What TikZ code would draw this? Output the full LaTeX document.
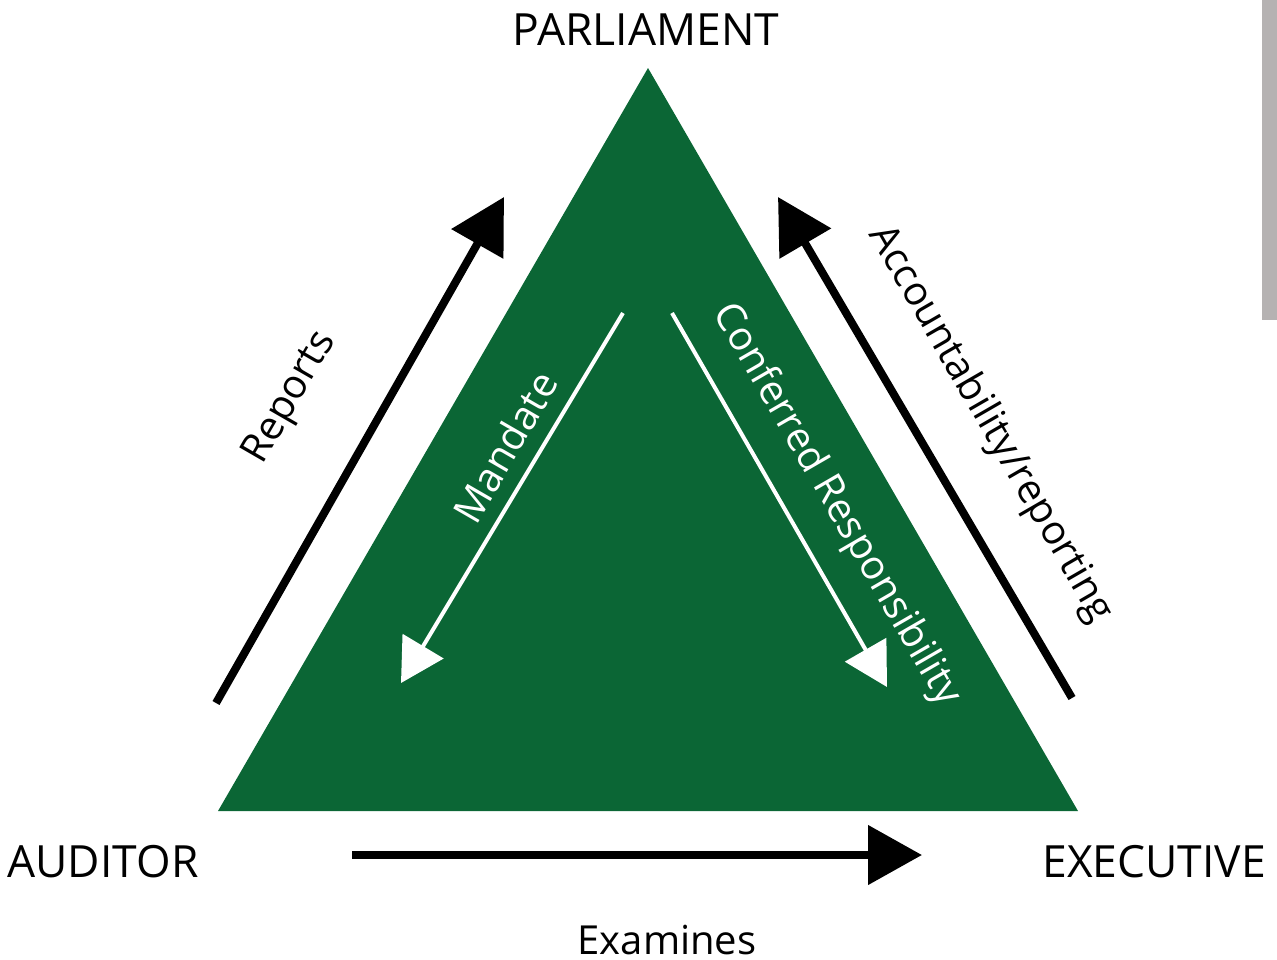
\documentclass[tikz,border=0pt]{standalone}
\usepackage{fontspec}
\setmainfont{Open Sans}
\usetikzlibrary{arrows.meta}
\definecolor{govgreen}{HTML}{0B6635}
\definecolor{bargray}{HTML}{B5B2B2}
\tikzset{
  bigarrow/.style={line width=4pt, -{Triangle[length=27pt,width=29pt]}},
  whitearrow/.style={white, line width=2pt, -{Triangle[length=21.5pt,width=23.5pt]}},
  corner/.style={font=\fontsize{22.2}{26}\selectfont, inner sep=0pt},
  txt/.style={font=\fontsize{20}{24}\selectfont, inner sep=0pt}
}
\begin{document}
\begin{tikzpicture}[x=0.5pt,y=-0.5pt]
    \useasboundingbox (0,0) rectangle (1277,959);
    \fill[bargray] (1262,0) rectangle (1277,320);
    \coordinate (top) at (648,68);
    \coordinate (left) at (218,811);
    \coordinate (right) at (1078,811);
    \fill[govgreen] (top) -- (left) -- (right) -- cycle;
    \node[corner] (parl) at (646,30) {PARLIAMENT};
    \node[corner] (aud) at (103,862) {AUDITOR};
    \node[corner] (exec) at (1154,862) {EXECUTIVE};
    % outer arrows
    \coordinate (rep-s) at (216,703); \coordinate (rep-e) at (504,197);
    \coordinate (acc-s) at (1072,698); \coordinate (acc-e) at (778,197);
    \coordinate (exa-s) at (352,855); \coordinate (exa-e) at (922,855);
    \draw[bigarrow] (rep-s) -- (rep-e);
    \draw[bigarrow] (acc-s) -- (acc-e);
    \draw[bigarrow] (exa-s) -- (exa-e);
    \node[txt, rotate=60] (rep) at (291,398) {Reports};
    \node[txt, rotate=-60] (acc) at (990,424) {Accountability/reporting};
    \node[txt] (exa) at (667,940) {Examines};
    % inner arrows
    \coordinate (man-s) at (623,313); \coordinate (man-e) at (401,683);
    \coordinate (con-s) at (672,313); \coordinate (con-e) at (887,687);
    \draw[whitearrow] (man-s) -- (man-e);
    \draw[whitearrow] (con-s) -- (con-e);
    \node[txt, white, rotate=60] (man) at (505,447) {Mandate};
    \node[txt, white, rotate=-60] (con) at (836,505) {Conferred Responsibility};
\end{tikzpicture}
\end{document}
